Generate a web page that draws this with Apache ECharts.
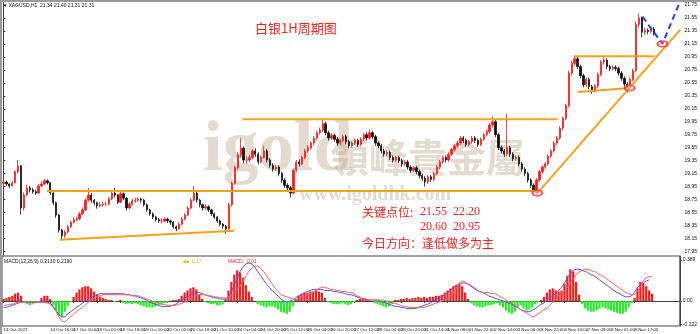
<!DOCTYPE html>
<html><head><meta charset="utf-8">
<script src="https://cdn.jsdelivr.net/npm/echarts@6/dist/echarts.min.js"></script>
<style>html,body{margin:0;padding:0;background:#fff}#c{width:700px;height:334px}</style>
</head><body><div id="c"></div><script>
const timeLabels = ["13 Oct 2022","14 Oct 00:00","14 Oct 16:00","17 Oct 10:00","18 Oct 02:00","18 Oct 18:00","19 Oct 10:00","20 Oct 02:00","20 Oct 18:00","21 Oct 10:00","24 Oct 04:00","24 Oct 20:00","25 Oct 12:00","26 Oct 04:00","26 Oct 20:00","27 Oct 12:00","28 Oct 04:00","28 Oct 20:00","31 Oct 14:00","1 Nov 06:00","1 Nov 22:00","2 Nov 14:00","3 Nov 06:00","3 Nov 22:00","4 Nov 14:00","7 Nov 09:00","8 Nov 01:00","8 Nov 17:00","9 Nov 09:00"];
const priceTicks = [17.95,18.15,18.35,18.55,18.75,18.95,19.15,19.35,19.55,19.75,19.95,20.15,20.35,20.55,20.75,20.95,21.15,21.35,21.55,21.75];
const macdTicks = [0.389, 0, -0.222];
const firstOpen = 19.00;
const closes = [
19.02,18.99,18.96,19.01,19.18,19.27,18.62,18.82,18.93,18.90,
18.87,18.85,18.96,18.99,19.04,19.01,18.85,18.70,18.51,18.28,
18.19,18.25,18.33,18.40,18.44,18.45,18.53,18.59,18.74,18.82,
18.74,18.70,18.65,18.67,18.68,18.68,18.76,18.85,18.82,18.71,
18.84,18.77,18.62,18.68,18.73,18.74,18.76,18.74,18.67,18.59,
18.53,18.48,18.44,18.42,18.42,18.45,18.42,18.40,18.33,18.30,
18.37,18.45,18.51,18.62,18.74,18.85,18.74,18.67,18.62,18.64,
18.59,18.53,18.48,18.42,18.37,18.34,18.30,18.67,19.00,19.24,
19.44,19.54,19.36,19.36,19.40,19.50,19.45,19.33,19.40,19.50,
19.36,19.28,19.22,19.25,19.15,19.05,18.97,18.93,18.85,19.20,
19.33,19.30,19.40,19.50,19.55,19.62,19.70,19.78,19.82,19.92,
19.78,19.70,19.74,19.68,19.62,19.66,19.72,19.64,19.58,19.62,
19.66,19.60,19.68,19.75,19.70,19.78,19.72,19.62,19.58,19.50,
19.45,19.48,19.40,19.36,19.40,19.35,19.30,19.33,19.25,19.20,
19.24,19.18,19.12,19.08,19.02,19.10,19.06,19.15,19.25,19.33,
19.40,19.36,19.45,19.52,19.58,19.62,19.70,19.66,19.60,19.64,
19.70,19.66,19.60,19.68,19.75,19.80,19.90,19.95,19.75,19.55,
19.50,19.45,19.55,19.45,19.38,19.40,19.30,19.22,19.15,19.05,
18.97,18.90,19.05,19.18,19.25,19.30,19.42,19.50,19.62,19.70,
19.85,20.00,20.20,20.70,20.85,20.92,20.80,20.66,20.52,20.60,
20.49,20.42,20.50,20.68,20.87,20.90,20.80,20.77,20.79,20.77,
20.70,20.62,20.53,20.47,20.60,20.74,21.45,21.55,21.33,21.36,
21.34,21.38,21.31];
const lows = [
18.98,18.96,18.93,18.95,19.00,19.15,18.52,18.58,18.80,18.86,
18.84,18.82,18.84,18.94,18.97,18.98,18.82,18.66,18.47,18.24,
18.12,18.16,18.23,18.31,18.38,18.41,18.43,18.51,18.57,18.72,
18.70,18.66,18.61,18.63,18.64,18.65,18.66,18.74,18.78,18.68,
18.70,18.74,18.58,18.60,18.66,18.70,18.71,18.70,18.64,18.56,
18.50,18.45,18.41,18.39,18.38,18.40,18.39,18.36,18.30,18.26,
18.28,18.35,18.43,18.49,18.60,18.72,18.70,18.63,18.58,18.59,
18.56,18.50,18.45,18.39,18.34,18.30,18.22,18.28,18.64,18.98,
19.21,19.40,19.31,19.30,19.33,19.37,19.41,19.29,19.31,19.38,
19.32,19.24,19.18,19.19,19.11,19.01,18.93,18.88,18.78,18.83,
19.17,19.26,19.28,19.37,19.47,19.52,19.59,19.67,19.75,19.79,
19.74,19.66,19.67,19.64,19.58,19.59,19.63,19.60,19.54,19.55,
19.59,19.56,19.57,19.65,19.66,19.67,19.68,19.58,19.54,19.46,
19.41,19.42,19.36,19.32,19.33,19.31,19.26,19.27,19.21,19.16,
19.17,19.14,19.08,19.04,18.95,18.99,19.02,19.03,19.12,19.22,
19.30,19.32,19.33,19.42,19.49,19.55,19.59,19.62,19.56,19.57,
19.61,19.62,19.56,19.57,19.65,19.72,19.77,19.86,19.71,19.51,
19.46,19.41,19.42,19.41,19.34,19.35,19.26,19.18,19.11,19.01,
18.93,18.86,18.85,19.02,19.15,19.22,19.27,19.39,19.47,19.59,
19.67,19.82,19.97,20.17,20.66,20.81,20.76,20.62,20.48,20.49,
20.45,20.38,20.40,20.47,20.65,20.83,20.76,20.73,20.74,20.73,
20.66,20.58,20.49,20.40,20.44,20.57,20.71,21.40,21.25,21.29,
21.30,21.31,21.28];
const highs = [
19.06,19.04,19.00,19.04,19.20,19.36,19.28,18.86,18.98,18.96,
18.93,18.90,18.99,19.03,19.07,19.06,19.02,18.87,18.72,18.53,
18.30,18.28,18.36,18.43,18.48,18.49,18.56,18.63,18.77,18.93,
18.85,18.76,18.72,18.71,18.72,18.72,18.79,18.88,18.93,18.84,
18.87,18.86,18.79,18.71,18.76,18.78,18.79,18.78,18.76,18.69,
18.61,18.55,18.50,18.47,18.46,18.48,18.47,18.44,18.42,18.35,
18.40,18.48,18.54,18.65,18.77,18.96,18.87,18.76,18.69,18.68,
18.66,18.61,18.55,18.50,18.44,18.39,18.36,18.70,19.03,19.27,
19.48,19.70,19.57,19.42,19.44,19.53,19.54,19.48,19.43,19.58,
19.53,19.39,19.31,19.29,19.28,19.18,19.08,19.00,18.96,19.23,
19.36,19.37,19.43,19.53,19.59,19.65,19.73,19.81,19.86,20.00,
19.95,19.81,19.78,19.77,19.71,19.69,19.75,19.75,19.67,19.65,
19.69,19.69,19.71,19.78,19.79,19.83,19.81,19.75,19.65,19.61,
19.53,19.51,19.51,19.43,19.43,19.43,19.38,19.36,19.36,19.28,
19.27,19.27,19.21,19.15,19.11,19.13,19.13,19.18,19.28,19.36,
19.43,19.43,19.48,19.55,19.61,19.66,19.73,19.73,19.69,19.67,
19.73,19.73,19.69,19.71,19.78,19.83,19.93,20.03,19.98,19.78,
19.58,19.53,20.08,19.58,19.48,19.43,19.43,19.33,19.25,19.18,
19.08,19.00,19.08,19.21,19.28,19.33,19.45,19.53,19.65,19.73,
19.88,20.03,20.23,20.74,20.89,20.97,20.95,20.83,20.69,20.63,
20.63,20.52,20.53,20.71,20.90,20.98,20.93,20.83,20.82,20.82,
20.80,20.73,20.65,20.56,20.63,20.77,21.50,21.62,21.57,21.40,
21.39,21.42,21.41];
const macdHist = [
0.02,0.03,0.04,0.05,0.07,0.08,0.05,-0.01,-0.03,-0.04,-0.03,-0.02,-0.01,
0.03,0.05,0.05,0.02,-0.04,-0.09,-0.14,-0.15,-0.10,-0.05,-0.01,
0.04,0.08,0.11,0.13,0.14,0.14,0.12,0.09,0.06,0.04,0.03,0.02,0.01,
0.01,-0.01,0.00,0.01,-0.02,-0.03,-0.02,-0.03,-0.02,
-0.03,-0.04,-0.05,-0.06,-0.06,-0.06,-0.05,-0.04,-0.03,-0.02,
-0.01,0.00,0.01,0.01,0.02,0.05,0.08,0.10,0.12,0.13,0.11,
0.06,0.02,-0.01,-0.02,-0.03,-0.03,-0.04,-0.04,-0.03,
0.02,0.10,0.18,0.25,0.29,0.27,0.22,0.15,0.09,0.04,0.00,
-0.03,-0.04,-0.05,-0.06,-0.05,-0.05,-0.06,-0.08,-0.10,-0.11,-0.12,-0.10,-0.05,
0.02,0.05,0.07,0.08,0.08,0.09,0.09,0.10,0.09,0.08,0.03,-0.01,
-0.02,-0.03,-0.03,-0.03,-0.02,-0.03,-0.04,-0.03,-0.01,0.01,0.02,0.03,0.02,
0.01,0.00,-0.02,-0.03,-0.04,-0.05,-0.06,-0.05,-0.03,
0.01,0.01,0.02,0.02,0.03,0.02,0.03,0.03,0.04,0.03,0.04,0.03,0.04,0.04,
0.05,0.05,0.06,0.08,0.10,0.12,0.14,0.15,0.16,0.14,0.08,0.02,-0.02,
-0.04,-0.05,-0.06,-0.06,-0.05,-0.04,-0.04,-0.03,-0.02,-0.04,-0.06,
-0.09,-0.11,-0.12,-0.10,-0.06,-0.04,-0.07,-0.09,-0.08,-0.06,-0.03,-0.01,0.01,
0.04,0.08,0.11,0.12,0.10,0.09,0.10,0.16,0.24,0.30,0.28,0.18,0.06,
-0.03,-0.07,-0.09,-0.10,-0.10,-0.09,-0.07,-0.06,-0.07,-0.08,-0.09,
-0.10,-0.11,-0.12,-0.12,-0.10,-0.06,-0.02,0.03,0.12,0.18,0.17,0.14,0.10,0.07];
const macdMain = [
-0.06,-0.06,-0.05,-0.04,-0.03,-0.02,
-0.01,-0.01,-0.01,-0.01,-0.01,-0.01,-0.01,-0.01,-0.01,-0.01,-0.02,
-0.05,-0.09,-0.13,-0.15,-0.15,-0.12,-0.10,-0.08,-0.06,-0.04,
-0.02,0.00,0.02,0.04,0.05,0.06,0.07,0.07,0.07,0.07,0.07,0.07,0.07,
0.07,0.07,0.06,0.06,0.05,0.05,0.04,0.03,0.02,0.01,-0.01,
-0.02,-0.03,-0.04,-0.05,-0.05,-0.05,-0.05,-0.04,-0.03,-0.01,0.01,0.03,0.04,
0.06,0.07,0.08,0.08,0.07,0.06,0.05,0.04,0.03,0.03,0.02,0.02,0.02,
0.04,0.09,0.15,0.22,0.28,0.32,0.35,0.36,0.35,
0.32,0.28,0.24,0.20,0.16,0.13,0.10,0.07,0.05,0.02,0.00,-0.01,
0.00,0.01,0.03,0.05,0.06,0.08,0.09,0.10,0.11,0.11,0.11,0.11,
0.10,0.10,0.10,0.09,0.09,0.08,0.08,0.07,0.06,0.06,
0.05,0.04,0.03,0.02,0.02,0.01,0.01,0.01,0.01,0.00,
-0.01,-0.02,-0.03,-0.04,-0.05,-0.05,-0.06,-0.06,-0.07,-0.07,-0.07,-0.07,
-0.06,-0.05,-0.04,-0.03,-0.02,0.00,0.01,0.03,0.04,0.06,0.08,
0.10,0.13,0.15,0.16,0.17,0.17,0.16,0.14,0.12,0.10,
0.09,0.08,0.07,0.05,0.04,0.03,0.02,0.01,0.00,-0.01,-0.02,
-0.03,-0.05,-0.06,-0.08,-0.09,-0.10,-0.10,-0.09,-0.07,-0.05,-0.03,-0.02,
0.01,0.03,0.05,0.07,0.10,0.13,0.17,0.22,0.26,0.29,
0.30,0.30,0.29,0.28,0.27,0.25,0.24,0.22,0.20,0.18,
0.16,0.14,0.12,0.10,0.08,0.07,0.05,0.04,0.04,0.05,
0.08,0.13,0.15,0.17,0.19,0.20];
const macdSignal = [
-0.04,-0.04,-0.03,-0.03,-0.02,-0.01,
-0.01,-0.01,-0.01,-0.01,-0.01,-0.01,-0.01,-0.01,-0.01,-0.02,-0.03,
-0.06,-0.10,-0.15,-0.19,-0.20,-0.17,-0.15,-0.12,-0.10,-0.08,
-0.06,-0.04,-0.01,0.01,0.03,0.04,0.05,0.06,0.06,0.06,0.06,0.06,0.06,
0.06,0.06,0.06,0.06,0.05,0.05,0.05,0.04,0.03,0.02,0.01,
0.00,-0.01,-0.02,-0.03,-0.03,-0.04,-0.04,-0.04,-0.04,-0.03,-0.02,-0.01,0.00,
0.02,0.04,0.05,0.06,0.06,0.06,0.05,0.05,0.04,0.04,0.03,0.03,0.03,
0.03,0.05,0.08,0.11,0.14,0.19,0.24,0.28,0.31,0.33,
0.33,0.31,0.28,0.24,0.20,0.16,0.12,0.09,0.06,0.05,0.04,0.03,
0.02,0.01,0.02,0.03,0.04,0.06,0.07,0.08,0.10,0.12,0.13,0.13,
0.12,0.11,0.11,0.10,0.10,0.09,0.09,0.08,0.08,0.07,
0.05,0.04,0.02,0.01,0.01,0.01,0.01,0.01,0.01,0.01,
0.00,-0.01,-0.02,-0.02,-0.03,-0.04,-0.05,-0.05,-0.06,-0.06,-0.06,-0.06,
-0.06,-0.06,-0.05,-0.04,-0.03,-0.02,-0.01,0.00,0.02,0.03,0.05,
0.08,0.12,0.17,0.19,0.18,0.16,0.15,0.13,0.11,0.09,
0.08,0.08,0.08,0.07,0.07,0.06,0.04,0.03,0.01,-0.01,-0.02,
-0.04,-0.06,-0.08,-0.10,-0.11,-0.13,-0.15,-0.14,-0.12,-0.10,-0.08,-0.07,
-0.04,-0.01,0.02,0.05,0.08,0.10,0.13,0.17,0.21,0.25,
0.27,0.29,0.30,0.30,0.29,0.28,0.27,0.25,0.24,0.22,
0.20,0.18,0.16,0.14,0.12,0.10,0.08,0.07,0.06,0.06,
0.09,0.14,0.19,0.22,0.23,0.23];
// trend lines: [bar index, price]
const supportLeft = [[19.2,18.13],[78.8,18.27]];
const neckLong = [[14.8,18.88],[182.3,18.88]];
const neckMid = [[81.5,19.99],[189.3,19.99]];
const riseLine = [[182.3,18.85],[231.1,21.37]];
const boxTop = [[195.1,20.96],[222.3,20.96]];
const boxBottom = [[196.1,20.41],[213.8,20.47]];
const projection = [[218.2,21.57],[225.0,21.15],[230.8,21.78]];
const circles = [[182.3,18.85],[213.8,20.47],[225.0,21.15]];

const NCAT = 232;
const cats = Array.from({length: NCAT}, (_, i) => i);
const candleData = closes.map((c, i) => [i === 0 ? firstOpen : closes[i - 1], c, lows[i], highs[i]]);
const lastClose = closes[closes.length - 1];

const chart = echarts.init(document.getElementById('c'), null, {renderer: 'canvas'});
const orange = '#f7a21b';
const lineSeries = (d, color, type, w) => ({type: 'line', xAxisIndex: 2, yAxisIndex: 0, data: d, symbol: 'none', silent: true, z: 5,
  lineStyle: {color: color, width: w, type: type}, animation: false});
const small = {fontSize: 5, fontFamily: 'Liberation Sans', color: '#111'};
const wm = 'rgba(190,176,146,0.45)';
chart.setOption({
  animation: false,
  backgroundColor: '#fff',
  grid: [
    {left: 2, right: 16, top: 2, height: 253},
    {left: 2, right: 16, top: 256, height: 70, show: true, borderColor: '#444', borderWidth: 1}
  ],
  xAxis: [
    {type: 'category', gridIndex: 0, data: cats, boundaryGap: true, axisLine: {show: false}, axisTick: {show: false}, axisLabel: {show: false}},
    {type: 'category', gridIndex: 1, data: cats, boundaryGap: true,
      axisLine: {show: true, lineStyle: {color: '#444'}},
      axisTick: {show: true, alignWithLabel: true, interval: (i) => i % 8 === 0, length: 2, lineStyle: {color: '#444'}},
      axisLabel: {show: true, showMinLabel: true, interval: (i) => i % 8 === 0, align: 'left', margin: 2, fontSize: 4.4,
        fontFamily: 'Liberation Sans Narrow, Liberation Sans', color: '#111',
        formatter: (v, idx) => timeLabels[idx / 8] || ''}},
    {type: 'value', gridIndex: 0, min: -0.5, max: NCAT - 0.5, show: false}
  ],
  yAxis: [
    {type: 'value', gridIndex: 0, position: 'right', min: 17.895, max: 21.796, scale: true,
      axisLine: {show: true, lineStyle: {color: '#444'}},
      axisTick: {show: true, length: 2, customValues: priceTicks, lineStyle: {color: '#444'}},
      axisLabel: Object.assign({customValues: priceTicks, margin: 3, formatter: (v) => v.toFixed(2)}, small),
      splitLine: {show: false}},
    {type: 'value', gridIndex: 1, position: 'right', min: -0.235, max: 0.425,
      axisLine: {show: true, lineStyle: {color: '#444'}},
      axisTick: {show: true, length: 2, customValues: macdTicks, lineStyle: {color: '#444'}},
      axisLabel: Object.assign({customValues: macdTicks, margin: 3, formatter: (v) => v === 0 ? '0.00' : String(v)}, small),
      splitLine: {show: false}}
  ],
  graphic: [
    {type: 'rect', shape: {x: 0, y: 0, width: 700, height: 2}, style: {fill: '#9a9a9a'}, z: 100},
    {type: 'rect', shape: {x: 0, y: 0, width: 2, height: 334}, style: {fill: '#9a9a9a'}, z: 100},
    {type: 'text', left: 4, top: 3, z: 50, style: {text: '▾ XAGUSD,H1  21.34 21.40 21.31 21.31', fontSize: 5, fontFamily: 'Liberation Sans', fill: '#111'}},
    {type: 'text', left: 203, top: 116, z: 1, silent: true, style: {text: 'igold', font: 'bold 71px "Liberation Serif"', fill: wm}},
    {type: 'text', left: 330, top: 138, z: 1, silent: true, style: {text: '領峰貴金屬', font: 'bold 39px "Noto Sans CJK TC"', fill: wm}},
    {type: 'text', left: 299, top: 185, z: 1, silent: true, style: {text: 'www.igoldhk.com', font: 'bold 20px "Liberation Serif"', fill: wm}},
    {type: 'text', left: 255, top: 22, z: 50, style: {text: '白银1H周期图', font: '13px "Noto Sans CJK SC"', fill: '#ff2020'}},
    {type: 'text', left: 362, top: 206, z: 50, style: {text: '关键点位:', font: '12px "Noto Sans CJK SC"', fill: '#ff2020'}},
    {type: 'text', left: 420, top: 206, z: 50, style: {text: '21.55  22.20', font: '12px "Liberation Serif"', fill: '#ff2020'}},
    {type: 'text', left: 420, top: 221, z: 50, style: {text: '20.60  20.95', font: '12px "Liberation Serif"', fill: '#ff2020'}},
    {type: 'text', left: 362, top: 237, z: 50, style: {text: '今日方向：逢低做多为主', font: '12px "Noto Sans CJK SC"', fill: '#ff2020'}},
    {type: 'text', left: 4, top: 259, z: 50, style: {text: 'MACD(12,26,9) 0.2130 0.2190', fontSize: 5, fontFamily: 'Liberation Sans', fill: '#111'}},
    {type: 'text', left: 183, top: 259, z: 50, style: {text: '■■  0.17', fontSize: 5, fontFamily: 'Liberation Sans', fill: '#e6c000'}},
    {type: 'text', left: 228, top: 259, z: 50, style: {text: 'MACD:  0.01', fontSize: 5, fontFamily: 'Liberation Sans', fill: '#ff2020'}}
  ],
  series: [
    {type: 'candlestick', xAxisIndex: 0, yAxisIndex: 0, data: candleData, barWidth: 1.8, z: 3,
      itemStyle: {color: '#ff1a1a', color0: '#111', borderColor: '#ff1a1a', borderColor0: '#111', borderWidth: 0.8},
      markLine: {symbol: 'none', silent: true, data: [{yAxis: lastClose}], lineStyle: {opacity: 0},
        label: {position: 'end', formatter: () => lastClose.toFixed(2), backgroundColor: '#000', color: '#fff', fontSize: 5, padding: [1, 2], distance: 1}}},
    lineSeries(supportLeft, orange, 'solid', 2),
    lineSeries(neckLong, orange, 'solid', 2),
    lineSeries(neckMid, orange, 'solid', 2),
    lineSeries(riseLine, orange, 'solid', 2),
    lineSeries(boxTop, orange, 'solid', 2),
    lineSeries(boxBottom, orange, 'solid', 2),
    Object.assign(lineSeries(projection, '#1f3fff', [6, 4], 2), {z: 6}),
    {type: 'scatter', xAxisIndex: 2, yAxisIndex: 0, data: circles, symbol: 'circle', symbolSize: [10, 6], z: 7, silent: true,
      itemStyle: {color: 'rgba(255,160,160,0.5)', borderColor: '#ff1a1a', borderWidth: 1.5}},
    {type: 'bar', xAxisIndex: 1, yAxisIndex: 1, data: macdHist, barWidth: 2.2, silent: true,
      itemStyle: {color: (p) => p.value >= 0 ? '#ff1a1a' : '#22ee22'}},
    {type: 'line', xAxisIndex: 1, yAxisIndex: 1, data: macdMain, symbol: 'none', silent: true, lineStyle: {color: '#5050ff', width: 1}, z: 4},
    {type: 'line', xAxisIndex: 1, yAxisIndex: 1, data: macdSignal, symbol: 'none', silent: true, lineStyle: {color: '#ff6060', width: 1}, z: 4}
  ]
});
</script></body></html>
